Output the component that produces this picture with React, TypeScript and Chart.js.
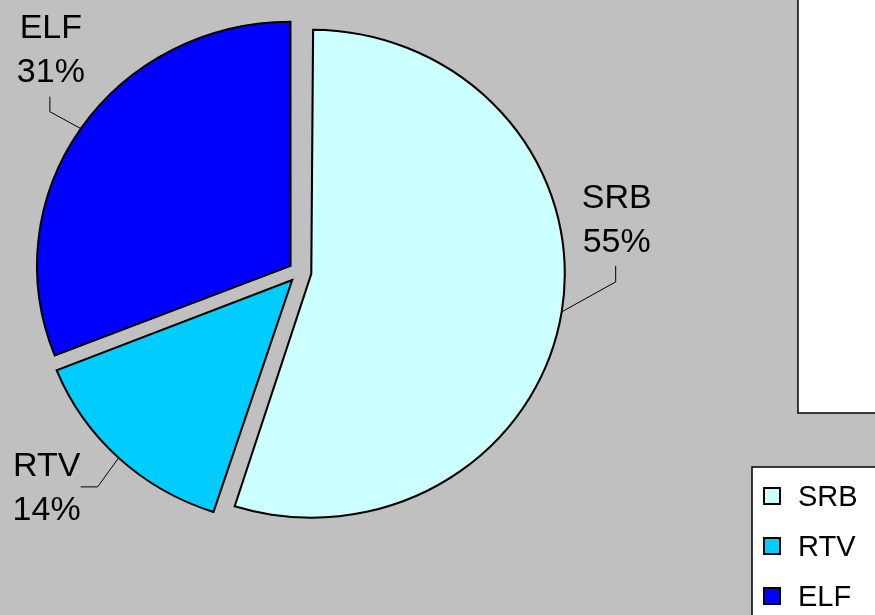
import React, { useEffect, useRef } from "react";
import { Chart, registerables } from "chart.js";

Chart.register(...registerables);

// ---- data ----
const categories: string[] = ["SRB", "RTV", "ELF"];
const shares: number[] = [55, 14, 31];
const sliceColors: string[] = ["#CCFFFF", "#00CCFF", "#0000FF"];

// leader-line / label layout per slice, offsets (px) from the slice's outer edge midpoint
const labelElbow: number[][] = [[54, -30], [-21, 29], [-31, -17]];
const labelLineEnd: number[][] = [[54, -46], [-38, 29], [-31, -32]];
const labelCenter: number[][] = [[55, -94], [-72, 28], [-30, -81]];

const W = 875;
const H = 615;
const CX = 300;
const CY = 272;
const RADIUS = 244;
const STRETCH_X = 1.039;
const OFFSET = 44;
const FONT = "'Liberation Sans', Arial, sans-serif";
const BG = "#C0C0C0";

function visualGeometry(arc: any) {
  const p = arc.getProps(["x", "y", "startAngle", "endAngle", "outerRadius"], true);
  const circ = p.endAngle - p.startAngle;
  const off = (arc.options.offset || 0) / 4;
  const fix = 1 - Math.sin(Math.min(Math.PI, circ));
  const mid = (p.startAngle + p.endAngle) / 2;
  const r = p.outerRadius + off * fix;
  const cx = p.x + Math.cos(mid) * off;
  const cy = p.y + Math.sin(mid) * off;
  return { mid, r, cx, cy, x0: p.x };
}

const decorPlugin = {
  id: "decor",
  beforeDraw(chart: any) {
    const ctx = chart.ctx;
    ctx.save();
    ctx.fillStyle = BG;
    ctx.fillRect(0, 0, W, H);
    // white panel at top right
    ctx.fillStyle = "#FFFFFF";
    ctx.fillRect(798, -5, W - 798 + 10, 413 + 5);
    ctx.strokeStyle = "#000000";
    ctx.lineWidth = 1.5;
    ctx.strokeRect(798, -5, W - 798 + 10, 413 + 5);
    ctx.restore();
  },
  afterDatasetsUpdate(chart: any) {
    const meta = chart.getDatasetMeta(0);
    meta.data.forEach((arc: any) => {
      const circ = arc.endAngle - arc.startAngle;
      const off = (arc.options?.offset || 0) / 4;
      const fix = 1 - Math.sin(Math.min(Math.PI, circ));
      arc.outerRadius = RADIUS - off * fix;
    });
  },
  beforeDatasetsDraw(chart: any) {
    const ctx = chart.ctx;
    const meta = chart.getDatasetMeta(0);
    const x0 = meta.data.length ? meta.data[0].x : CX;
    ctx.save();
    ctx.translate(x0, 0);
    ctx.scale(STRETCH_X, 1);
    ctx.translate(-x0, 0);
  },
  afterDatasetsDraw(chart: any) {
    const ctx = chart.ctx;
    ctx.restore();
    const meta = chart.getDatasetMeta(0);
    const values = chart.data.datasets[0].data as number[];
    const total = values.reduce((a, b) => a + b, 0);
    const labels = chart.data.labels as string[];
    ctx.save();
    meta.data.forEach((arc: any, i: number) => {
      const g = visualGeometry(arc);
      const ux = g.cx + Math.cos(g.mid) * g.r;
      const px = g.x0 + (ux - g.x0) * STRETCH_X;
      const py = g.cy + Math.sin(g.mid) * g.r;
      ctx.strokeStyle = "#000000";
      ctx.lineWidth = 1;
      ctx.beginPath();
      ctx.moveTo(px, py);
      ctx.lineTo(px + labelElbow[i][0], py + labelElbow[i][1]);
      ctx.lineTo(px + labelLineEnd[i][0], py + labelLineEnd[i][1]);
      ctx.stroke();
      const fs = 34;
      ctx.font = `${fs}px ${FONT}`;
      ctx.fillStyle = "#000000";
      ctx.textAlign = "center";
      ctx.textBaseline = "alphabetic";
      const tx = px + labelCenter[i][0];
      const ty = py + labelCenter[i][1];
      const pct = Math.round((values[i] / total) * 100) + "%";
      ctx.fillText(labels[i], tx, ty - 22 + fs * 0.36);
      ctx.fillText(pct, tx, ty + 22 + fs * 0.36);
    });
    ctx.restore();
  },
  afterDraw(chart: any) {
    // legend box
    const ctx = chart.ctx;
    const labels = chart.data.labels as string[];
    const colors = chart.data.datasets[0].backgroundColor as string[];
    ctx.save();
    ctx.fillStyle = "#FFFFFF";
    ctx.fillRect(752, 467, W - 752 + 10, H - 467 + 10);
    ctx.strokeStyle = "#000000";
    ctx.lineWidth = 1.5;
    ctx.strokeRect(752, 467, W - 752 + 10, H - 467 + 10);
    const fs = 29;
    ctx.font = `${fs}px ${FONT}`;
    ctx.textAlign = "left";
    ctx.textBaseline = "alphabetic";
    labels.forEach((lab, i) => {
      const cy = 496 + i * 50;
      ctx.fillStyle = colors[i];
      ctx.fillRect(764, cy - 8, 16, 16);
      ctx.strokeStyle = "#000000";
      ctx.lineWidth = 2;
      ctx.strokeRect(764, cy - 8, 16, 16);
      ctx.fillStyle = "#000000";
      ctx.fillText(lab, 798, cy + fs * 0.36);
    });
    ctx.restore();
  },
};

export default function App() {
  const ref = useRef<HTMLCanvasElement | null>(null);
  useEffect(() => {
    if (!ref.current) return;
    const chart = new Chart(ref.current, {
      type: "pie",
      data: {
        labels: categories,
        datasets: [
          {
            data: shares,
            backgroundColor: sliceColors,
            borderColor: "#000000",
            borderWidth: 2,
            borderJoinStyle: "miter",
            offset: OFFSET,
            hoverOffset: 0,
          },
        ],
      },
      options: {
        responsive: false,
        animation: false,
        radius: RADIUS,
        layout: { padding: { left: 0, top: 0, right: W - 2 * CX, bottom: H - 2 * CY } },
        plugins: {
          legend: { display: false },
          tooltip: { enabled: false },
          title: { display: false },
        },
        events: [],
      } as any,
      plugins: [decorPlugin],
    });
    return () => chart.destroy();
  }, []);
  return (
    <div style={{ position: "absolute", left: 0, top: 0, width: W, height: H }}>
      <canvas ref={ref} width={W} height={H} style={{ display: "block" }} />
    </div>
  );
}
